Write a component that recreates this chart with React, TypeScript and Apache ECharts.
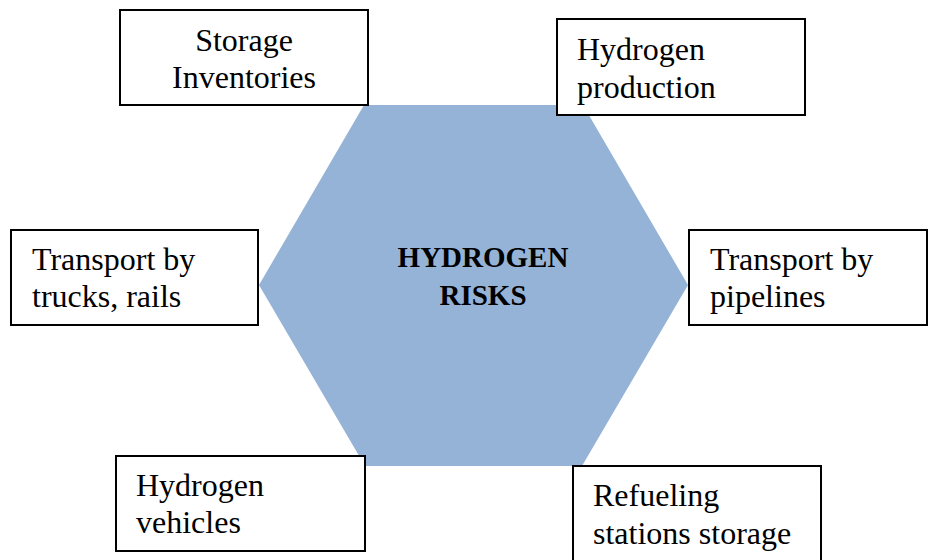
import React, { useEffect, useRef } from "react";
import * as echarts from "echarts";

const centerLines = ["HYDROGEN", "RISKS"];
const boxLabels = [
  ["Storage", "Inventories"],
  ["Hydrogen", "production"],
  ["Transport by", "trucks, rails"],
  ["Transport by", "pipelines"],
  ["Hydrogen", "vehicles"],
  ["Refueling", "stations storage"],
];

// layout (positions in px); by = baselines of the two text lines
const boxRects = [
  { x: 120, y: 10, w: 248, h: 95, tx: 244, by: [48, 85], align: "center" },
  { x: 557, y: 19, w: 248, h: 96, tx: 577, by: [57, 95], align: "left" },
  { x: 11, y: 230, w: 247, h: 95, tx: 32, by: [267, 304], align: "left" },
  { x: 689, y: 230, w: 238, h: 95, tx: 710, by: [267, 304], align: "left" },
  { x: 116, y: 456, w: 249, h: 95, tx: 136, by: [493, 530], align: "left" },
  { x: 573, y: 466, w: 248, h: 110, tx: 593, by: [503, 541], align: "left" },
];
const centerBaselines = [264, 302];
const hexPoints = [
  [364, 105],
  [583, 105],
  [688, 285],
  [582, 466],
  [365, 466],
  [259, 285],
];

export default function App() {
  const ref = useRef<HTMLDivElement>(null);
  useEffect(() => {
    if (!ref.current) return;
    const chart = echarts.init(ref.current, null, { renderer: "svg" });
    const family = "Liberation Serif";
    const regSize = 32;
    const boldSize = 29;
    const elements: any[] = [];
    elements.push({
      type: "polygon",
      shape: { points: hexPoints },
      style: { fill: "#95B3D7", stroke: "none" },
      z: 1,
    });
    centerLines.forEach((t, i) => {
      elements.push({
        type: "text",
        x: 483,
        y: centerBaselines[i] - boldSize * 0.3375 + 3,
        style: {
          text: t,
          fontFamily: family,
          fontSize: boldSize,
          fontWeight: "bold",
          fill: "#000",
          align: "center",
          verticalAlign: "middle",
        },
        z: 5,
      });
    });
    boxRects.forEach((b, i) => {
      elements.push({
        type: "rect",
        shape: { x: b.x, y: b.y, width: b.w, height: b.h },
        style: { fill: "#fff", stroke: "#000", lineWidth: 2 },
        z: 3,
      });
      boxLabels[i].forEach((t, j) => {
        elements.push({
          type: "text",
          x: b.tx,
          y: b.by[j] - regSize * 0.3375 + 3,
          style: {
            text: t,
            fontFamily: family,
            fontSize: regSize,
            fill: "#000",
            align: b.align,
            verticalAlign: "middle",
          },
          z: 6,
        });
      });
    });
    chart.setOption({
      animation: false,
      backgroundColor: "#fff",
      graphic: { elements },
    });
    return () => chart.dispose();
  }, []);
  return <div ref={ref} style={{ width: 928, height: 560, position: "absolute", left: 0, top: 0 }} />;
}
